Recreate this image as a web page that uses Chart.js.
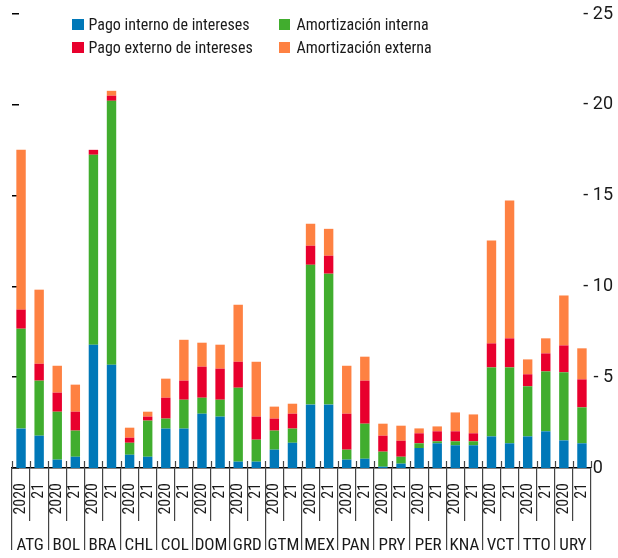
<!DOCTYPE html>
<html>
<head>
<meta charset="utf-8">
<script src="https://cdn.jsdelivr.net/npm/chart.js@4.4.1/dist/chart.umd.min.js"></script>
<style>
  html, body { margin: 0; padding: 0; background: #fff; }
  #wrap { position: relative; width: 618px; height: 558px; }
  canvas { position: absolute; left: 0; top: 0; }
  .leg { position: absolute; font-family: "Roboto Condensed", Roboto, sans-serif; font-stretch: condensed; font-size: 16px; color: #1a1a1a; white-space: nowrap; line-height: 16px; }
  .leg i { display: inline-block; width: 11.5px; height: 11px; vertical-align: baseline; }
  .leg span { position: absolute; top: 0; }
</style>
</head>
<body>
<div id="wrap">
  <canvas id="c" width="618" height="558"></canvas>
  <div class="leg" style="left:72px; top:16.5px;"><i style="background:#0078b8"></i><span style="left:16.5px">Pago interno de intereses</span></div>
  <div class="leg" style="left:278.5px; top:16.5px;"><i style="background:#41ad2e"></i><span style="left:18px">Amortización interna</span></div>
  <div class="leg" style="left:72px; top:39.8px;"><i style="background:#e8002d"></i><span style="left:16.5px">Pago externo de intereses</span></div>
  <div class="leg" style="left:278.5px; top:39.8px;"><i style="background:#fe8142"></i><span style="left:18px">Amortización externa</span></div>
</div>
<script>
const countries = ['ATG','BOL','BRA','CHL','COL','DOM','GRD','GTM','MEX','PAN','PRY','PER','KNA','VCT','TTO','URY'];
const years = ['2020','21'];
const yTicks = [0, 5, 10, 15, 20, 25];

const pagoInterno = [2.17,1.78, 0.46,0.62, 6.79,5.69, 0.73,0.62, 2.17,2.17, 2.99,2.83, 0.35,0.35, 1.01,1.39, 3.49,3.49, 0.46,0.51, 0.07,0.24, 1.10,1.36, 1.25,1.25, 1.74,1.36, 1.74,2.02, 1.52,1.36];
const amortInterna = [5.50,3.03, 2.64,1.44, 10.46,14.53, 0.66,1.99, 0.55,1.59, 0.88,0.93, 4.07,1.21, 1.05,0.78, 7.70,7.21, 0.55,1.93, 0.83,0.38, 0.26,0.11, 0.22,0.22, 3.80,4.18, 2.76,3.30, 3.75,1.98];
const pagoExterno = [1.05,0.93, 1.05,1.04, 0.27,0.28, 0.28,0.22, 1.15,1.05, 1.71,1.71, 1.43,1.27, 0.66,0.82, 1.05,0.99, 1.98,2.37, 0.88,0.88, 0.55,0.55, 0.55,0.44, 1.32,1.60, 0.66,0.99, 1.48,1.54];
const amortExterna = [8.80,4.08, 1.48,1.49, 0,0.27, 0.55,0.27, 1.05,2.25, 1.32,1.32, 3.14,3.02, 0.66,0.55, 1.21,1.48, 2.64,1.32, 0.66,0.83, 0.27,0.27, 1.04,1.04, 5.67,7.59, 0.82,0.83, 2.75,1.71];

const barLabels = countries.flatMap(() => years);
const INK = '#1a1a1a';
const COND = "'Roboto Condensed', Roboto, sans-serif";

function ds(label, data, color) {
  return { label, data, backgroundColor: color, borderWidth: 0, categoryPercentage: 1, barPercentage: 0.52, yAxisID: 'y', xAxisID: 'x' };
}

// short separator stubs rising above the category axis line
const separatorStubs = {
  id: 'separatorStubs',
  afterDraw(chart) {
    const xs = chart.scales.x, ctx = chart.ctx;
    const n = xs.getLabels().length;
    const half = (xs.getPixelForValue(1) - xs.getPixelForValue(0)) / 2;
    const y0 = chart.chartArea.bottom;
    ctx.save();
    ctx.strokeStyle = '#444';
    ctx.lineWidth = 1.2;
    ctx.beginPath();
    for (let i = 0; i <= n; i++) {
      const px = Math.round(xs.getPixelForValue(Math.min(i, n - 1)) + (i < n ? -half : half)) + 0.5;
      ctx.moveTo(px, y0 - 7);
      ctx.lineTo(px, y0);
    }
    ctx.stroke();
    ctx.restore();
  }
};

new Chart(document.getElementById('c'), {
  type: 'bar',
  data: {
    labels: barLabels,
    datasets: [
      ds('Pago interno de intereses', pagoInterno, '#0078b8'),
      ds('Amortización interna', amortInterna, '#41ad2e'),
      ds('Pago externo de intereses', pagoExterno, '#e8002d'),
      ds('Amortización externa', amortExterna, '#fe8142')
    ]
  },
  plugins: [separatorStubs],
  options: {
    responsive: false,
    animation: false,
    devicePixelRatio: 1,
    layout: { padding: { top: 14, bottom: 2, left: 0, right: 0 } },
    plugins: { legend: { display: false }, tooltip: { enabled: false } },
    scales: {
      x: {
        type: 'category',
        position: 'bottom',
        stacked: true,
        offset: true,
        grid: { offset: true, drawOnChartArea: false, drawTicks: true, tickLength: 53, color: '#444', lineWidth: 1.2 },
        border: { display: true, color: '#000', width: 1.5 },
        ticks: {
          autoSkip: false, minRotation: 90, maxRotation: 90, padding: -38,
          color: INK, font: { family: COND, size: 16 }
        },
        afterFit: (s) => { s.height = 53; }
      },
      x2: {
        type: 'category',
        position: 'bottom',
        labels: countries,
        offset: true,
        grid: { offset: true, drawOnChartArea: false, drawTicks: true, tickLength: 29, color: '#444', lineWidth: 1.2 },
        border: { display: false },
        ticks: {
          autoSkip: false, maxRotation: 0, minRotation: 0, padding: -14,
          color: INK, font: { family: COND, size: 17 }
        },
        afterFit: (s) => { s.height = 35; }
      },
      y: {
        position: 'right',
        stacked: true,
        min: 0, max: 25,
        afterBuildTicks: (s) => { s.ticks = yTicks.map(v => ({ value: v })); },
        grid: { display: false },
        border: { display: false },
        ticks: {
          mirror: true, crossAlign: 'near', padding: 22,
          color: INK, font: { family: "Roboto, sans-serif", size: 18 },
          callback: (v) => v === 0 ? '0\u2007' : '- ' + v
        },
        afterFit: (s) => { s.width = 27; s.paddingTop = 0; s.paddingBottom = 0; }
      },
      yL: {
        position: 'left',
        min: 0, max: 25,
        afterBuildTicks: (s) => { s.ticks = yTicks.map(v => ({ value: v })); },
        grid: { display: true, drawOnChartArea: false, drawTicks: true, tickLength: -7, color: '#000', lineWidth: 1.5 },
        border: { display: false },
        ticks: { display: false },
        afterFit: (s) => { s.width = 12; s.paddingTop = 0; s.paddingBottom = 0; }
      }
    }
  }
});
</script>
</body>
</html>
